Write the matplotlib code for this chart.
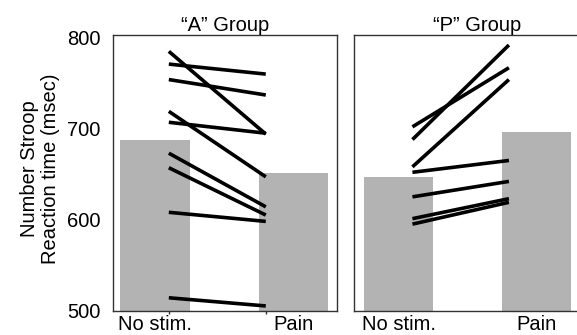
import matplotlib
matplotlib.use("Agg")
import matplotlib.pyplot as plt

plt.rcParams["font.family"] = ["Liberation Sans", "DejaVu Sans"]

# Conditions and group titles
conditions = ["No stim.", "Pain"]
groups = ["\u201cA\u201d Group", "\u201cP\u201d Group"]

# Group mean reaction times (msec)
a_means = [688, 651]
p_means = [647, 696]

# Individual subjects: (no stim., pain) reaction times (msec)
a_nostim = [785, 771, 754, 719, 707, 673, 657, 608, 514]
a_pain = [694, 760, 737, 647, 695, 614, 605, 598, 505]
p_nostim = [702, 688, 658, 652, 625, 601, 595]
p_pain = [767, 792, 754, 665, 642, 623, 619]

yticks = [500, 600, 700, 800]

W, H = 577, 335
fig = plt.figure(figsize=(W / 100, H / 100), dpi=100)

bar_color = "#b3b3b3"
spine_color = "#333333"
line_x = (0.1, 0.8)   # where subject lines start and end
bar_w = 0.5
fs = 14.5


def px_axes(x0, x1, y0, y1):
    return fig.add_axes([x0 / W, (H - y1) / H, (x1 - x0) / W, (y1 - y0) / H])


ax_a = px_axes(113, 336.7, 35, 310.5)
ax_p = px_axes(354, 601, 35, 310.5)

panels = [
    (ax_a, a_means, a_nostim, a_pain, (-0.303, 1.312)),
    (ax_p, p_means, p_nostim, p_pain, (-0.324, 1.468)),
]

for i, (ax, means, pre, post, xl) in enumerate(panels):
    ax.bar(range(len(conditions)), [m - 500 for m in means], bottom=500,
           width=bar_w, color=bar_color, edgecolor="none", zorder=1)
    for a, b in zip(pre, post):
        ax.plot(line_x, (a, b), color="black", lw=2.6,
                solid_capstyle="butt", zorder=3)
    ax.set_xlim(*xl)
    ax.set_ylim(500, 803)
    ax.set_xticks(range(len(conditions)))
    ax.set_xticklabels(conditions, fontsize=fs)
    ax.tick_params(axis="x", length=0, pad=3)
    ax.set_title(groups[i], fontsize=fs, pad=3)
    for s in ax.spines.values():
        s.set_color(spine_color)
        s.set_linewidth(1.0)
    if i == 0:
        ax.set_yticks(yticks)
        ax.set_yticklabels([str(v) for v in yticks], fontsize=fs)
        ax.tick_params(axis="y", length=0, pad=9)
        ax.set_xticks(line_x, minor=True)
        ax.tick_params(axis="x", which="minor", length=2.5, width=1,
                       color=spine_color)
        ax.set_ylabel("Number Stroop\nReaction time (msec)", fontsize=fs,
                      linespacing=1.1)
        ax.yaxis.set_label_coords(-0.237, 0.515)
    else:
        ax.set_yticks([])
        ax.spines["right"].set_visible(False)

fig.savefig("out.png", dpi=100)
